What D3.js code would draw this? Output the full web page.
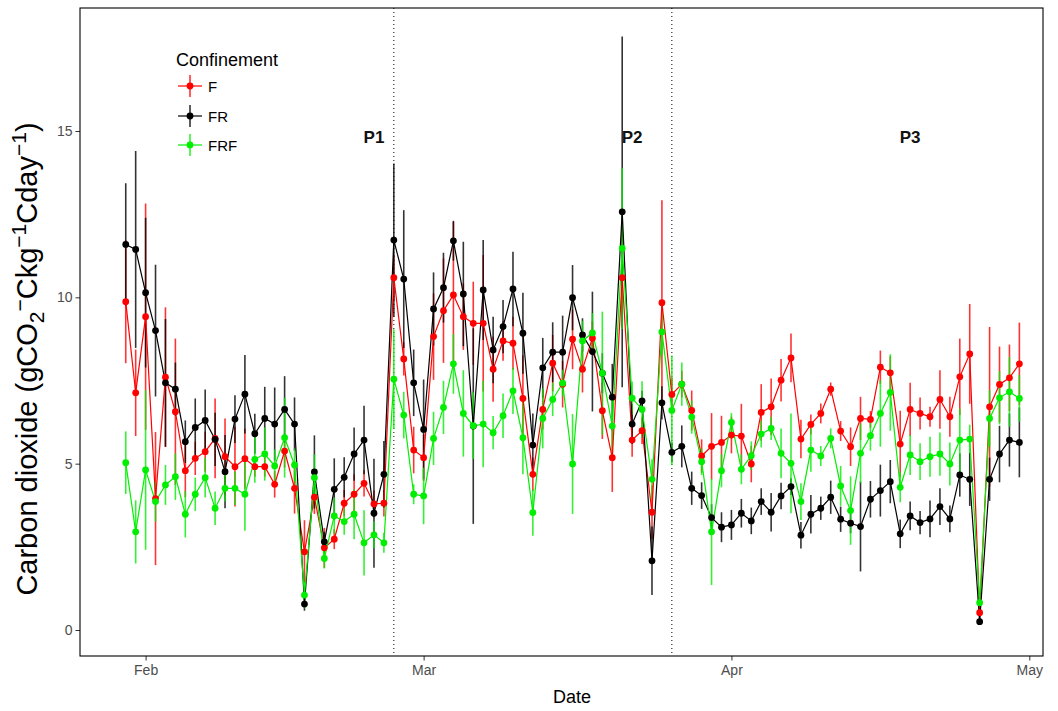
<!DOCTYPE html>
<html>
<head>
<meta charset="utf-8">
<script src="https://cdn.jsdelivr.net/npm/d3@7"></script>
<style>
  body { margin: 0; background: #fff; }
  svg { display: block; font-family: "Liberation Sans", Arial, sans-serif; }
</style>
</head>
<body>
<svg id="chart" width="1058" height="711"></svg>
<script>
// Sampling days
const dates = [
  "2021-01-30","2021-01-31",
  "2021-02-01","2021-02-02","2021-02-03","2021-02-04","2021-02-05","2021-02-06","2021-02-07",
  "2021-02-08","2021-02-09","2021-02-10","2021-02-11","2021-02-12","2021-02-13","2021-02-14",
  "2021-02-15","2021-02-16","2021-02-17","2021-02-18","2021-02-19","2021-02-20","2021-02-21",
  "2021-02-22","2021-02-23","2021-02-24","2021-02-25","2021-02-26","2021-02-27","2021-02-28",
  "2021-03-01","2021-03-02","2021-03-03","2021-03-04","2021-03-05","2021-03-06","2021-03-07",
  "2021-03-08","2021-03-09","2021-03-10","2021-03-11","2021-03-12","2021-03-13","2021-03-14",
  "2021-03-15","2021-03-16","2021-03-17","2021-03-18","2021-03-19","2021-03-20","2021-03-21",
  "2021-03-22","2021-03-23","2021-03-24","2021-03-25","2021-03-26","2021-03-27","2021-03-28",
  "2021-03-29","2021-03-30","2021-03-31",
  "2021-04-01","2021-04-02","2021-04-03","2021-04-04","2021-04-05","2021-04-06","2021-04-07",
  "2021-04-08","2021-04-09","2021-04-10","2021-04-11","2021-04-12","2021-04-13","2021-04-14",
  "2021-04-15","2021-04-16","2021-04-17","2021-04-18","2021-04-19","2021-04-20","2021-04-21",
  "2021-04-22","2021-04-23","2021-04-24","2021-04-25","2021-04-26","2021-04-27","2021-04-28",
  "2021-04-29","2021-04-30"
];

// Confinement groups
const groups = ["F", "FR", "FRF"];
const groupColors = ["#ff0000", "#000000", "#00ee00"];

// Daily mean CO2 release (g CO2-C / kg C / day)
const meanF = [
  9.87, 7.13, 9.42, 3.95, 7.60, 6.56, 4.79, 5.16, 5.36, 5.76, 5.21, 4.91, 5.15, 4.91, 4.91,
  4.38, 5.38, 4.26, 2.35, 3.99, 2.47, 2.73, 3.81, 4.08, 4.41, 3.79, 3.81, 10.59, 8.15, 5.41,
  5.18, 8.82, 9.60, 10.07, 9.42, 9.22, 9.22, 7.84, 8.69, 8.62, 6.96, 4.68, 6.63, 8.02, 7.39,
  8.74, 7.84, 8.77, 6.59, 5.18, 10.59, 5.71, 5.99, 3.54, 9.84, 7.08, 7.39, 6.60, 5.23, 5.52,
  5.64, 5.86, 5.83, 4.99, 6.54, 6.71, 7.51, 8.18, 5.74, 6.18, 6.51, 7.24, 5.98, 5.51, 6.36,
  6.33, 7.90, 7.73, 5.59, 6.63, 6.51, 6.41, 6.93, 6.41, 7.61, 8.30, 0.52, 6.71, 7.38, 7.58,
  8.00
];
const meanFR = [
  11.59, 11.44, 10.14, 9.00, 7.43, 7.24, 5.66, 6.09, 6.30, 5.73, 4.76, 6.34, 7.09, 5.90, 6.36,
  6.19, 6.63, 6.19, 0.78, 4.75, 2.65, 4.23, 4.59, 5.29, 5.71, 3.51, 4.68, 11.72, 10.55, 7.43,
  6.03, 9.65, 10.29, 11.70, 10.10, 6.13, 10.22, 8.42, 9.12, 10.25, 8.92, 5.56, 7.88, 8.35, 8.35,
  9.99, 8.87, 8.37, 7.72, 7.00, 12.57, 6.19, 6.89, 2.08, 6.83, 5.34, 5.52, 4.26, 4.04, 3.38,
  3.09, 3.16, 3.51, 3.28, 3.86, 3.54, 4.03, 4.31, 2.85, 3.48, 3.66, 3.99, 3.33, 3.21, 3.11,
  3.93, 4.19, 4.46, 2.89, 3.43, 3.23, 3.34, 3.71, 3.34, 4.66, 4.53, 0.25, 4.53, 5.29, 5.71,
  5.64
];
const meanFRF = [
  5.03, 2.95, 4.81, 3.86, 4.36, 4.61, 3.48, 4.08, 4.58, 3.66, 4.26, 4.26, 4.08, 5.13, 5.29,
  4.93, 5.78, 4.96, 1.05, 4.58, 2.15, 3.43, 3.26, 3.48, 2.62, 2.86, 2.62, 7.54, 6.46, 4.08,
  4.03, 5.76, 6.69, 8.00, 6.51, 6.14, 6.19, 5.93, 6.44, 7.19, 5.78, 3.53, 6.36, 6.93, 7.42,
  4.99, 8.69, 8.93, 7.72, 6.13, 11.47, 6.97, 6.63, 4.53, 8.96, 6.60, 7.39, 6.40, 5.06, 2.95,
  4.79, 6.24, 4.83, 5.24, 5.89, 6.06, 5.31, 5.01, 3.86, 5.41, 5.23, 5.76, 4.33, 3.59, 5.31,
  5.84, 6.51, 7.14, 4.29, 5.26, 5.06, 5.21, 5.29, 4.99, 5.71, 5.74, 0.82, 6.36, 6.98, 7.16,
  6.96
];

// Standard errors of the daily means
const seF = [
  1.85, 1.30, 3.40, 2.00, 2.10, 2.20, 0.80, 0.50, 0.60, 1.20, 1.15, 1.20, 0.90, 0.30, 0.30,
  0.40, 0.50, 0.76, 0.95, 0.50, 0.60, 0.30, 0.40, 0.60, 0.40, 0.40, 0.40, 0.70, 0.50, 0.70,
  0.70, 1.30, 1.57, 2.20, 1.00, 1.25, 2.05, 0.98, 0.60, 0.80, 1.30, 0.50, 0.60, 0.85, 0.70,
  0.90, 0.70, 0.50, 0.85, 1.03, 1.50, 0.50, 0.40, 0.80, 3.08, 0.50, 0.40, 0.60, 0.50, 1.00,
  0.80, 0.55, 0.97, 0.55, 0.85, 0.85, 0.64, 0.73, 0.58, 0.30, 0.30, 0.20, 0.30, 0.58, 0.65,
  0.25, 0.50, 0.50, 1.00, 0.80, 0.48, 0.30, 0.88, 0.60, 1.15, 1.50, 0.20, 2.40, 1.14, 1.00,
  1.24
];
const seFR = [
  1.84, 2.96, 2.25, 1.98, 1.92, 0.80, 0.64, 0.87, 0.93, 0.80, 1.10, 0.72, 1.18, 0.60, 0.95,
  1.10, 1.00, 0.80, 0.20, 1.10, 0.30, 0.93, 0.60, 0.80, 1.03, 1.64, 1.00, 2.30, 2.07, 1.00,
  1.50, 1.10, 1.05, 0.60, 1.57, 2.94, 1.50, 1.00, 0.80, 1.12, 1.22, 0.95, 0.90, 0.90, 1.10,
  0.98, 0.50, 1.80, 0.60, 1.00, 5.27, 0.60, 0.30, 1.03, 0.50, 0.30, 0.63, 0.50, 0.40, 0.40,
  0.45, 0.45, 0.43, 0.40, 0.40, 0.58, 0.40, 0.25, 0.40, 0.58, 0.35, 0.50, 0.38, 0.30, 1.35,
  0.55, 0.78, 0.65, 0.43, 0.43, 0.35, 0.55, 0.55, 0.40, 0.65, 0.80, 0.10, 0.65, 0.85, 0.80,
  1.05
];
const seFRF = [
  0.94, 0.95, 2.40, 0.60, 0.60, 0.70, 0.70, 0.50, 0.60, 0.50, 0.40, 0.50, 1.10, 0.70, 0.80,
  0.50, 1.20, 0.50, 0.40, 0.70, 0.30, 0.55, 0.40, 0.75, 0.98, 0.40, 0.30, 1.50, 0.70, 0.30,
  0.85, 0.80, 0.80, 0.90, 1.30, 1.00, 1.30, 0.50, 0.67, 0.70, 1.10, 0.70, 0.90, 0.50, 0.40,
  1.50, 0.60, 0.60, 1.85, 0.90, 2.42, 0.50, 0.85, 0.60, 0.70, 1.65, 0.65, 0.50, 0.40, 1.60,
  0.50, 0.28, 0.45, 0.43, 0.40, 0.35, 0.75, 1.50, 0.55, 0.65, 0.30, 0.30, 0.60, 1.03, 0.90,
  0.45, 1.00, 1.15, 0.45, 0.60, 0.55, 0.60, 0.65, 0.65, 0.95, 0.43, 0.30, 0.85, 0.80, 1.05,
  0.70
];

// Axis ticks
const xTickDates = ["2021-02-01", "2021-03-01", "2021-04-01", "2021-05-01"];
const xTickLabels = ["Feb", "Mar", "Apr", "May"];
const yTicks = [0, 5, 10, 15];

// Period boundaries and labels
const periodBreaks = ["2021-02-26", "2021-03-26"];
const periodLabels = ["P1", "P2", "P3"];
const periodLabelDates = ["2021-02-24", "2021-03-22", "2021-04-19"];
const periodLabelLevel = 14.8;

// ---------------------------------------------------------------
const means = [meanF, meanFR, meanFRF];
const ses = [seF, seFR, seFRF];
const parse = d3.utcParse("%Y-%m-%d");
const days = dates.map(parse);

const series = groups.map((g, k) => ({
  name: g,
  color: groupColors[k],
  values: days.map((d, i) => ({ date: d, mean: means[k][i], se: ses[k][i] }))
}));

const svg = d3.select("#chart");
const panel = { left: 80, right: 1043, top: 8, bottom: 656 };
const font = "'Liberation Sans', Arial, sans-serif";

const x = d3.scaleUtc()
  .domain([parse(xTickDates[0]), parse(xTickDates[3])])
  .range([145.6, 1029.3]);
const y = d3.scaleLinear().domain([0, 15]).range([630, 131]);

// Axes
const yAxis = svg.append("g")
  .attr("transform", `translate(${panel.left},0)`)
  .call(d3.axisLeft(y).tickValues(yTicks).tickSize(4.5).tickPadding(3));
yAxis.select(".domain").remove();
yAxis.selectAll("line").attr("stroke", "#333").attr("stroke-width", 1);
yAxis.selectAll("text").attr("fill", "#4d4d4d").style("font-size", "14px")
  .style("font-family", font);

const xAxis = svg.append("g")
  .attr("transform", `translate(0,${panel.bottom})`)
  .call(d3.axisBottom(x).tickValues(xTickDates.map(parse))
    .tickFormat((d, i) => xTickLabels[i]).tickSize(4.5).tickPadding(5));
xAxis.select(".domain").remove();
xAxis.selectAll("line").attr("stroke", "#333").attr("stroke-width", 1);
xAxis.selectAll("text").attr("fill", "#4d4d4d").style("font-size", "14px")
  .style("font-family", font);

// Panel frame
svg.append("rect")
  .attr("x", panel.left).attr("y", panel.top)
  .attr("width", panel.right - panel.left).attr("height", panel.bottom - panel.top)
  .attr("fill", "none").attr("stroke", "#000").attr("stroke-width", 1.1);

// Period separators
svg.append("g").selectAll("line").data(periodBreaks).join("line")
  .attr("x1", d => x(parse(d))).attr("x2", d => x(parse(d)))
  .attr("y1", panel.top).attr("y2", panel.bottom)
  .attr("stroke", "#000").attr("stroke-width", 1).attr("stroke-dasharray", "1,3");

// Error bars
const gErr = svg.append("g");
series.forEach(s => {
  gErr.append("g").selectAll("line").data(s.values).join("line")
    .attr("x1", d => x(d.date)).attr("x2", d => x(d.date))
    .attr("y1", d => y(d.mean - d.se)).attr("y2", d => y(d.mean + d.se))
    .attr("stroke", s.color).attr("stroke-width", 1.6).attr("stroke-opacity", 0.8);
});

// Lines
const line = d3.line().x(d => x(d.date)).y(d => y(d.mean));
svg.append("g").selectAll("path").data(series).join("path")
  .attr("d", s => line(s.values))
  .attr("fill", "none").attr("stroke", s => s.color).attr("stroke-width", 1.2);

// Points
series.forEach(s => {
  svg.append("g").selectAll("circle").data(s.values).join("circle")
    .attr("cx", d => x(d.date)).attr("cy", d => y(d.mean)).attr("r", 3.4)
    .attr("fill", s.color);
});

// Period labels
svg.append("g").selectAll("text").data(periodLabels).join("text")
  .attr("x", (d, i) => x(parse(periodLabelDates[i])))
  .attr("y", y(periodLabelLevel))
  .attr("text-anchor", "middle").attr("dominant-baseline", "central")
  .style("font-size", "17px").style("font-weight", "bold").attr("fill", "#111")
  .text(d => d);

// Axis titles
svg.append("text")
  .attr("x", 572).attr("y", 703)
  .attr("text-anchor", "middle")
  .style("font-size", "18px").attr("fill", "#000")
  .text("Date");

const yTitle = svg.append("text")
  .attr("transform", "translate(37,359) rotate(-90)")
  .attr("text-anchor", "middle")
  .style("font-size", "29px").attr("fill", "#000");
yTitle.append("tspan").text("Carbon dioxide (gCO");
yTitle.append("tspan").attr("dy", 7).style("font-size", "21px").text("2");
yTitle.append("tspan").attr("dy", -17).style("font-size", "21px").text("\u2212");
yTitle.append("tspan").attr("dy", 10).text("Ckg");
yTitle.append("tspan").attr("dy", -11).style("font-size", "21px").text("\u22121");
yTitle.append("tspan").attr("dy", 11).text("Cday");
yTitle.append("tspan").attr("dy", -11).style("font-size", "21px").text("\u22121");
yTitle.append("tspan").attr("dy", 11).text(")");

// Legend
const legend = svg.append("g");
legend.append("text").attr("x", 176).attr("y", 66)
  .style("font-size", "18px").attr("fill", "#000").text("Confinement");
const keyY = [86, 116, 145];
series.forEach((s, k) => {
  const g = legend.append("g").attr("transform", `translate(190,${keyY[k]})`);
  g.append("line").attr("x1", -12).attr("x2", 12).attr("y1", 0).attr("y2", 0)
    .attr("stroke", s.color).attr("stroke-width", 1.2);
  g.append("line").attr("x1", 0).attr("x2", 0).attr("y1", -11).attr("y2", 11)
    .attr("stroke", s.color).attr("stroke-width", 1.6).attr("stroke-opacity", 0.8);
  g.append("circle").attr("r", 3.4).attr("fill", s.color);
  g.append("text").attr("x", 18).attr("y", 0).attr("dominant-baseline", "central")
    .style("font-size", "15px").attr("fill", "#000").text(s.name);
});
</script>
</body>
</html>
